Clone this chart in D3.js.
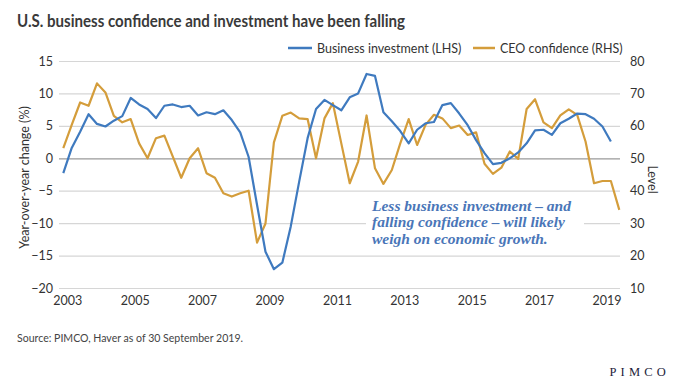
<!DOCTYPE html>
<html>
<head>
<meta charset="utf-8">
<script src="https://cdn.jsdelivr.net/npm/d3@7"></script>
<style>
  html, body { margin: 0; padding: 0; background: #fff; }
  svg { display: block; }
</style>
</head>
<body>
<svg id="chart" width="680" height="383"></svg>
<script>
// ---- Data (quarterly, starting 2003 Q1) ----
const startYear = 2003;
const businessInvestment = [
  -2.3, 1.6, 4.1, 6.8, 5.3, 4.9, 5.8, 6.5, 9.3, 8.3, 7.6, 6.2, 8.1, 8.3, 7.9, 8.1,
  6.6, 7.1, 6.8, 7.4, 5.9, 4.0, 0.2, -7.2, -14.4, -17.1, -16.1, -10.5, -3.6, 3.1, 7.6, 9.0,
  8.2, 7.4, 9.4, 10.0, 13.0, 12.7, 7.1, 5.7, 4.2, 2.3, 4.4, 5.4, 5.6, 8.2, 8.5, 6.9,
  5.1, 2.8, 0.8, -0.9, -0.7, 0.0, 0.9, 2.3, 4.3, 4.4, 3.6, 5.4, 6.1, 6.9, 6.8, 6.1,
  4.9, 2.6
];
const ceoConfidence = [
  53.1, 60.3, 67.2, 66.2, 73.1, 70.3, 63.1, 61.1, 62.1, 54.6, 50.0, 56.2, 57.0, 50.5, 44.0, 50.0,
  53.1, 45.4, 44.0, 39.2, 38.2, 39.2, 40.0, 24.0, 29.9, 54.9, 63.1, 64.1, 62.3, 62.1, 50.0, 62.3,
  67.0, 54.6, 42.3, 49.0, 63.2, 46.9, 42.1, 46.4, 54.6, 62.1, 54.1, 60.3, 63.4, 62.3, 59.3, 60.1,
  57.2, 58.0, 48.3, 45.2, 47.1, 52.1, 49.8, 65.2, 68.2, 61.1, 59.3, 63.2, 65.1, 63.4, 55.1, 42.3,
  43.0, 43.0, 34.1
];
const leftTicks = [15, 10, 5, 0, -5, -10, -15, -20];
const rightTicks = [80, 70, 60, 50, 40, 30, 20, 10];
const yearTicks = [2003, 2005, 2007, 2009, 2011, 2013, 2015, 2017, 2019];
const seriesNames = ["Business investment (LHS)", "CEO confidence (RHS)"];
const titleText = "U.S. business confidence and investment have been falling";
const sourceText = "Source: PIMCO, Haver as of 30 September 2019.";
const noteLines = ["Less business investment \u2013 and", "falling confidence \u2013 will likely", "weigh on economic growth."];

// ---- Styles ----
const BLUE = "#3f7abf";
const ORANGE = "#d49d3b";
const TEXT = "#333333";
const SANS = "Lato, 'Open Sans', sans-serif";

const svg = d3.select("#chart");

const gridLeft = 59, gridRight = 620;
const plotTop = 61, plotBottom = 288;

const x = d3.scaleLinear().domain([2003, 2019.5]).range([63.3, 619.3]);
const yL = d3.scaleLinear().domain([-20, 15]).range([plotBottom, plotTop]);
const yR = d3.scaleLinear().domain([10, 80]).range([plotBottom, plotTop]);

// Title
svg.append("text")
  .attr("x", 17).attr("y", 27)
  .attr("font-family", SANS).attr("font-weight", 700).attr("font-size", 16.5)
  .attr("textLength", 388).attr("lengthAdjust", "spacingAndGlyphs")
  .attr("fill", "#3a3a3a")
  .text(titleText);

// Left axis with gridlines
const gL = svg.append("g").attr("transform", `translate(${gridLeft},0)`)
  .call(d3.axisLeft(yL).tickValues(leftTicks).tickSize(-(gridRight - gridLeft)).tickPadding(6));
gL.select(".domain").remove();
gL.selectAll(".tick line").attr("stroke", d => d === 0 ? "#9a9a9a" : "#d6d6d6").attr("stroke-width", d => d === 0 ? 1.3 : 1.2);
gL.selectAll(".tick text").attr("font-family", SANS).attr("font-size", 12.5).attr("fill", TEXT);

// Right axis
const gR = svg.append("g").attr("transform", `translate(${gridRight},0)`)
  .call(d3.axisRight(yR).tickValues(rightTicks).tickSize(0).tickPadding(10));
gR.select(".domain").remove();
gR.selectAll(".tick text").attr("font-family", SANS).attr("font-size", 12.5).attr("fill", TEXT);

// Bottom axis labels
const gB = svg.append("g").attr("transform", `translate(4,${plotBottom})`)
  .call(d3.axisBottom(x).tickValues(yearTicks).tickFormat(d3.format("d")).tickSize(0).tickPadding(8));
gB.select(".domain").remove();
gB.selectAll(".tick text").attr("font-family", SANS).attr("font-size", 12.5).attr("fill", TEXT);

// Axis titles
svg.append("text")
  .attr("transform", `translate(29,${(plotTop + plotBottom) / 2 + 3}) rotate(-90)`)
  .attr("text-anchor", "middle")
  .attr("font-family", SANS).attr("font-size", 12.5).attr("fill", TEXT)
  .text("Year-over-year change (%)");
svg.append("text")
  .attr("transform", `translate(648,${(plotTop + plotBottom) / 2 + 5}) rotate(90)`)
  .attr("text-anchor", "middle")
  .attr("font-family", SANS).attr("font-size", 12.5).attr("fill", TEXT)
  .text("Level");

// Annotation background
svg.append("rect")
  .attr("x", 366).attr("y", 196).attr("width", 218).attr("height", 54)
  .attr("fill", "#fff");

// Lines
const lineL = d3.line().x((d, i) => x(startYear + i / 4)).y(d => yL(d));
const lineR = d3.line().x((d, i) => x(startYear + i / 4)).y(d => yR(d));
svg.append("path").datum(ceoConfidence)
  .attr("d", lineR).attr("fill", "none").attr("stroke", ORANGE)
  .attr("stroke-width", 2.2).attr("stroke-linejoin", "round");
svg.append("path").datum(businessInvestment)
  .attr("d", lineL).attr("fill", "none").attr("stroke", BLUE)
  .attr("stroke-width", 2.2).attr("stroke-linejoin", "round");

// Annotation text
const note = svg.append("text")
  .attr("font-family", "'Liberation Serif', 'DejaVu Serif', serif")
  .attr("font-style", "italic").attr("font-weight", 700)
  .attr("font-size", 15.5).attr("fill", "#4a76b8");
noteLines.forEach((t, i) => {
  note.append("tspan").attr("x", 372).attr("y", 211 + i * 16.3).text(t);
});

// Legend
const legend = svg.append("g").attr("font-family", SANS).attr("font-size", 12.5).attr("fill", TEXT);
const legendItems = [
  { name: seriesNames[0], color: BLUE, x0: 288, x1: 312, tx: 317 },
  { name: seriesNames[1], color: ORANGE, x0: 473, x1: 495, tx: 500 }
];
legendItems.forEach(it => {
  legend.append("line").attr("x1", it.x0).attr("x2", it.x1).attr("y1", 48).attr("y2", 48)
    .attr("stroke", it.color).attr("stroke-width", 2.5);
  legend.append("text").attr("x", it.tx).attr("y", 52.5).text(it.name);
});

// Source
svg.append("text")
  .attr("x", 17).attr("y", 342)
  .attr("font-family", SANS).attr("font-size", 11.5).attr("fill", "#444")
  .attr("textLength", 226).attr("lengthAdjust", "spacingAndGlyphs")
  .text(sourceText);

// Logo
svg.append("text")
  .attr("x", 670).attr("y", 376).attr("text-anchor", "end")
  .attr("font-family", "'Liberation Serif', serif").attr("font-size", 12.5)
  .attr("letter-spacing", 4.2).attr("fill", "#1d1d3a")
  .text("PIMCO");
</script>
</body>
</html>
